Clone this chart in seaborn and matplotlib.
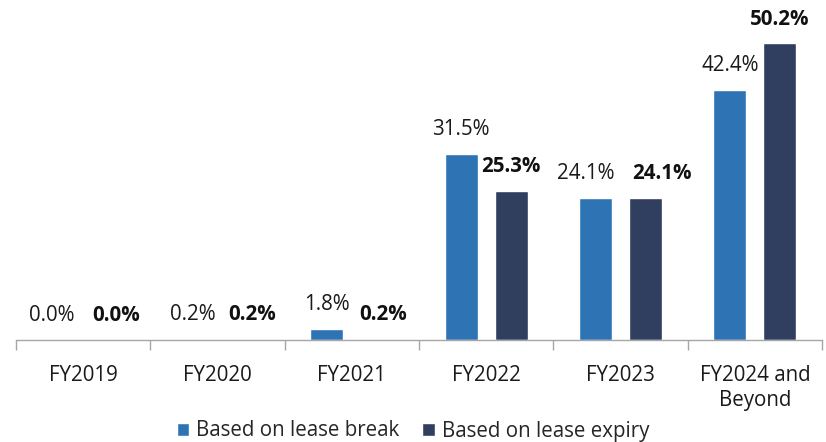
import pandas as pd
import matplotlib.pyplot as plt
import seaborn as sns

# data
categories = ["FY2019", "FY2020", "FY2021", "FY2022", "FY2023", "FY2024 and\nBeyond"]
lease_break = [0.0, 0.2, 1.8, 31.5, 24.1, 42.4]
lease_expiry = [0.0, 0.2, 0.2, 25.3, 24.1, 50.2]
series_names = ["Based on lease break", "Based on lease expiry"]
colors = ["#2E74B5", "#303F5F"]

# sideways nudges of the value labels (pixels), to keep them apart like the original
nudge_break = [-6, 0, 0, 0, -10, 0]
nudge_expiry = [8, 10, 6, 0, 16, 0]

df = pd.DataFrame({
    "category": categories * 2,
    "value": lease_break + lease_expiry,
    "series": [series_names[0]] * len(categories) + [series_names[1]] * len(categories),
})

sns.set_theme(style="white")
plt.rcParams["font.family"] = ["Open Sans", "DejaVu Sans"]
fs = 14.8

fig = plt.figure(figsize=(8.26, 4.42), dpi=100)
ax = fig.add_axes([16 / 826, 102 / 442, 806 / 826, 319 / 442])

sns.barplot(data=df, x="category", y="value", hue="series", palette=colors,
            width=0.744, gap=0.34, saturation=1, ax=ax, legend=True)

ax.set_ylim(0, 54)
ax.set_xlim(-0.5, len(categories) - 0.5)
ax.set_xlabel("")
ax.set_ylabel("")
ax.set_yticks([])

# value labels (expiry in bold)
pad = 10
labs1 = ax.bar_label(ax.containers[0], fmt="{:.1f}%", padding=pad, fontsize=fs, color="#1a1a1a")
labs2 = ax.bar_label(ax.containers[1], fmt="{:.1f}%", padding=pad, fontsize=fs,
                     fontweight="bold", color="#111111")
for t, dx in zip(labs1, nudge_break):
    t.xyann = (dx * 0.72, pad)
for t, dx in zip(labs2, nudge_expiry):
    t.xyann = (dx * 0.72, pad)

# axis line and category dividers
for s in ["top", "right", "left"]:
    ax.spines[s].set_visible(False)
ax.spines["bottom"].set_color("#a6a6a6")
ax.spines["bottom"].set_linewidth(1.0)
ax.set_xticks(range(len(categories)))
ax.set_xticklabels(categories, fontsize=fs, color="#1a1a1a", linespacing=1.25)
ax.set_xticks([i - 0.5 for i in range(len(categories) + 1)], minor=True)
ax.tick_params(axis="x", which="major", length=0, pad=18)
ax.tick_params(axis="x", which="minor", length=7, color="#a6a6a6", width=1.0, bottom=True)

handles, labels = ax.get_legend_handles_labels()
ax.legend(handles, labels, loc="center", bbox_to_anchor=(0.5, 11 / 442),
          bbox_transform=fig.transFigure, ncol=2, frameon=False, fontsize=fs,
          handlelength=0.6, handleheight=0.6, handletextpad=0.35, columnspacing=1.1,
          borderpad=0)

fig.savefig("out.png", dpi=100)
